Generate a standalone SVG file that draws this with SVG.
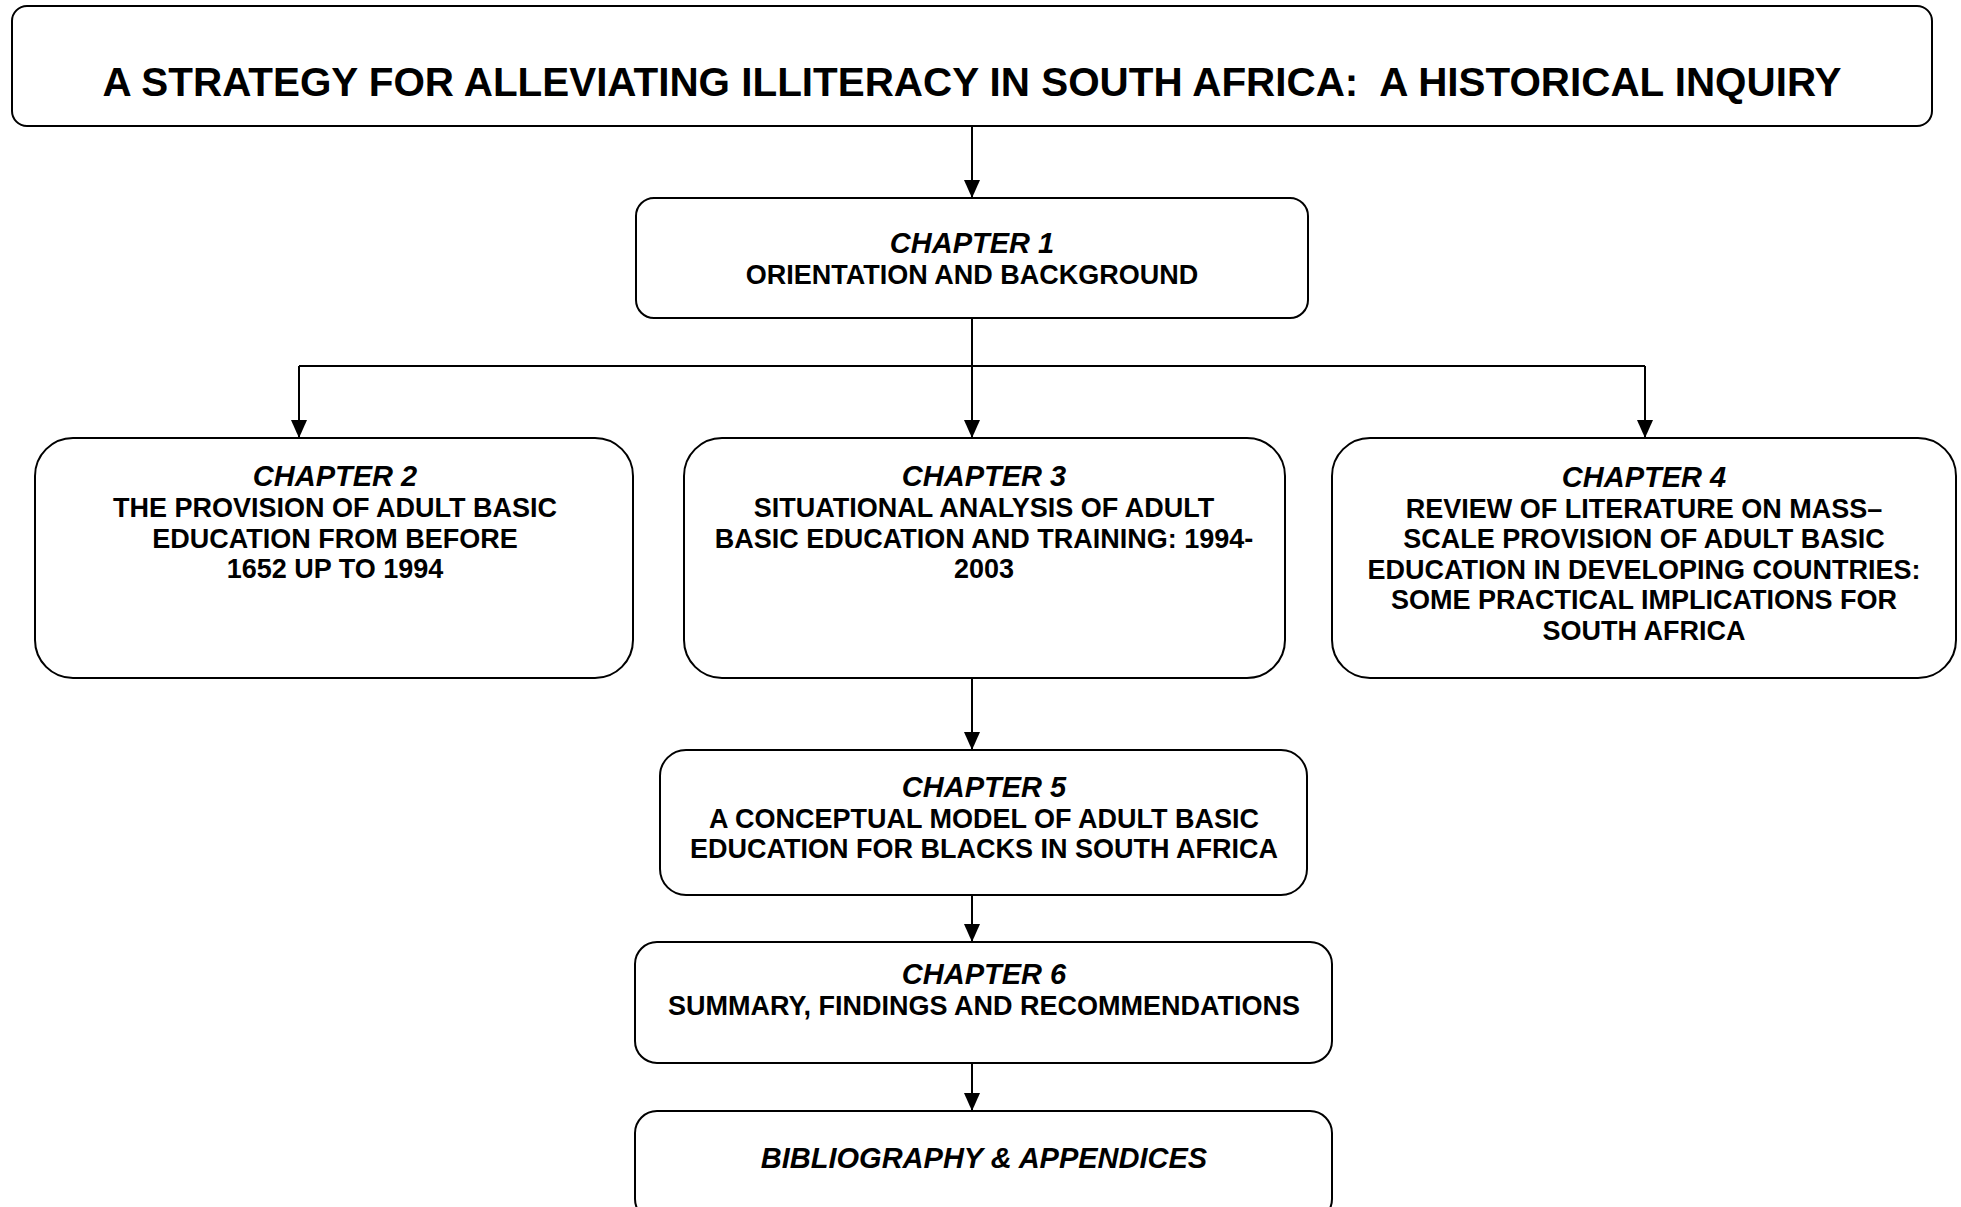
<svg xmlns="http://www.w3.org/2000/svg" width="1961" height="1207" viewBox="0 0 1961 1207">
<style>
.box{fill:#fff;stroke:#000;stroke-width:2}
.t{font-family:"Liberation Sans",Arial,sans-serif;font-weight:bold;font-size:27px;text-anchor:middle;fill:#000}
.h{font-style:italic;font-size:29px}
.title{font-size:40.4px}
.c{fill:none;stroke:#000;stroke-width:2}
</style>
<defs>
<marker id="ah" markerUnits="userSpaceOnUse" markerWidth="18" markerHeight="16" refX="18" refY="8" orient="auto" viewBox="0 0 18 16">
<path d="M0,0 L18,8 L0,16 Z" fill="#000"/>
</marker>
</defs>
<g id="connectors">
<line class="c" x1="972" y1="126" x2="972" y2="198" marker-end="url(#ah)"/>
<polyline class="c" points="972,318 972,366"/>
<polyline class="c" points="299,366 1645,366"/>
<line class="c" x1="299" y1="366" x2="299" y2="438" marker-end="url(#ah)"/>
<line class="c" x1="972" y1="366" x2="972" y2="438" marker-end="url(#ah)"/>
<line class="c" x1="1645" y1="366" x2="1645" y2="438" marker-end="url(#ah)"/>
<line class="c" x1="972" y1="678" x2="972" y2="750" marker-end="url(#ah)"/>
<line class="c" x1="972" y1="895" x2="972" y2="942" marker-end="url(#ah)"/>
<line class="c" x1="972" y1="1063" x2="972" y2="1111" marker-end="url(#ah)"/>
</g>
<g id="title">
<rect class="box" x="12" y="6" width="1920" height="120" rx="15"/>
<text class="t title" x="972" y="96" xml:space="preserve">A STRATEGY FOR ALLEVIATING ILLITERACY IN SOUTH AFRICA:  A HISTORICAL INQUIRY</text>
</g>
<g id="ch1">
<rect class="box" x="636" y="198" width="672" height="120" rx="18"/>
<text class="t h" x="972" y="253">CHAPTER 1</text>
<text class="t" x="972" y="284">ORIENTATION AND BACKGROUND</text>
</g>
<g id="ch2">
<rect class="box" x="35" y="438" width="598" height="240" rx="38"/>
<text class="t h" x="335" y="486">CHAPTER 2</text>
<text class="t" x="335" y="517">THE PROVISION OF ADULT BASIC</text>
<text class="t" x="335" y="547.5">EDUCATION FROM BEFORE</text>
<text class="t" x="335" y="578">1652 UP TO 1994</text>
</g>
<g id="ch3">
<rect class="box" x="684" y="438" width="601" height="240" rx="38"/>
<text class="t h" x="984" y="486">CHAPTER 3</text>
<text class="t" x="984" y="517">SITUATIONAL ANALYSIS OF ADULT</text>
<text class="t" x="984" y="547.5">BASIC EDUCATION AND TRAINING: 1994-</text>
<text class="t" x="984" y="578">2003</text>
</g>
<g id="ch4">
<rect class="box" x="1332" y="438" width="624" height="240" rx="38"/>
<text class="t h" x="1644" y="486.5">CHAPTER 4</text>
<text class="t" x="1644" y="517.5">REVIEW OF LITERATURE ON MASS–</text>
<text class="t" x="1644" y="548">SCALE PROVISION OF ADULT BASIC</text>
<text class="t" x="1644" y="578.5">EDUCATION IN DEVELOPING COUNTRIES:</text>
<text class="t" x="1644" y="609">SOME PRACTICAL IMPLICATIONS FOR</text>
<text class="t" x="1644" y="639.5">SOUTH AFRICA</text>
</g>
<g id="ch5">
<rect class="box" x="660" y="750" width="647" height="145" rx="26"/>
<text class="t h" x="984" y="797">CHAPTER 5</text>
<text class="t" x="984" y="827.5">A CONCEPTUAL MODEL OF ADULT BASIC</text>
<text class="t" x="984" y="858">EDUCATION FOR BLACKS IN SOUTH AFRICA</text>
</g>
<g id="ch6">
<rect class="box" x="635" y="942" width="697" height="121" rx="22"/>
<text class="t h" x="984" y="984">CHAPTER 6</text>
<text class="t" x="984" y="1015">SUMMARY, FINDINGS AND RECOMMENDATIONS</text>
</g>
<g id="bibliography">
<rect class="box" x="635" y="1111" width="697" height="110" rx="22"/>
<text class="t h" x="984" y="1168">BIBLIOGRAPHY &amp; APPENDICES</text>
</g>
</svg>
